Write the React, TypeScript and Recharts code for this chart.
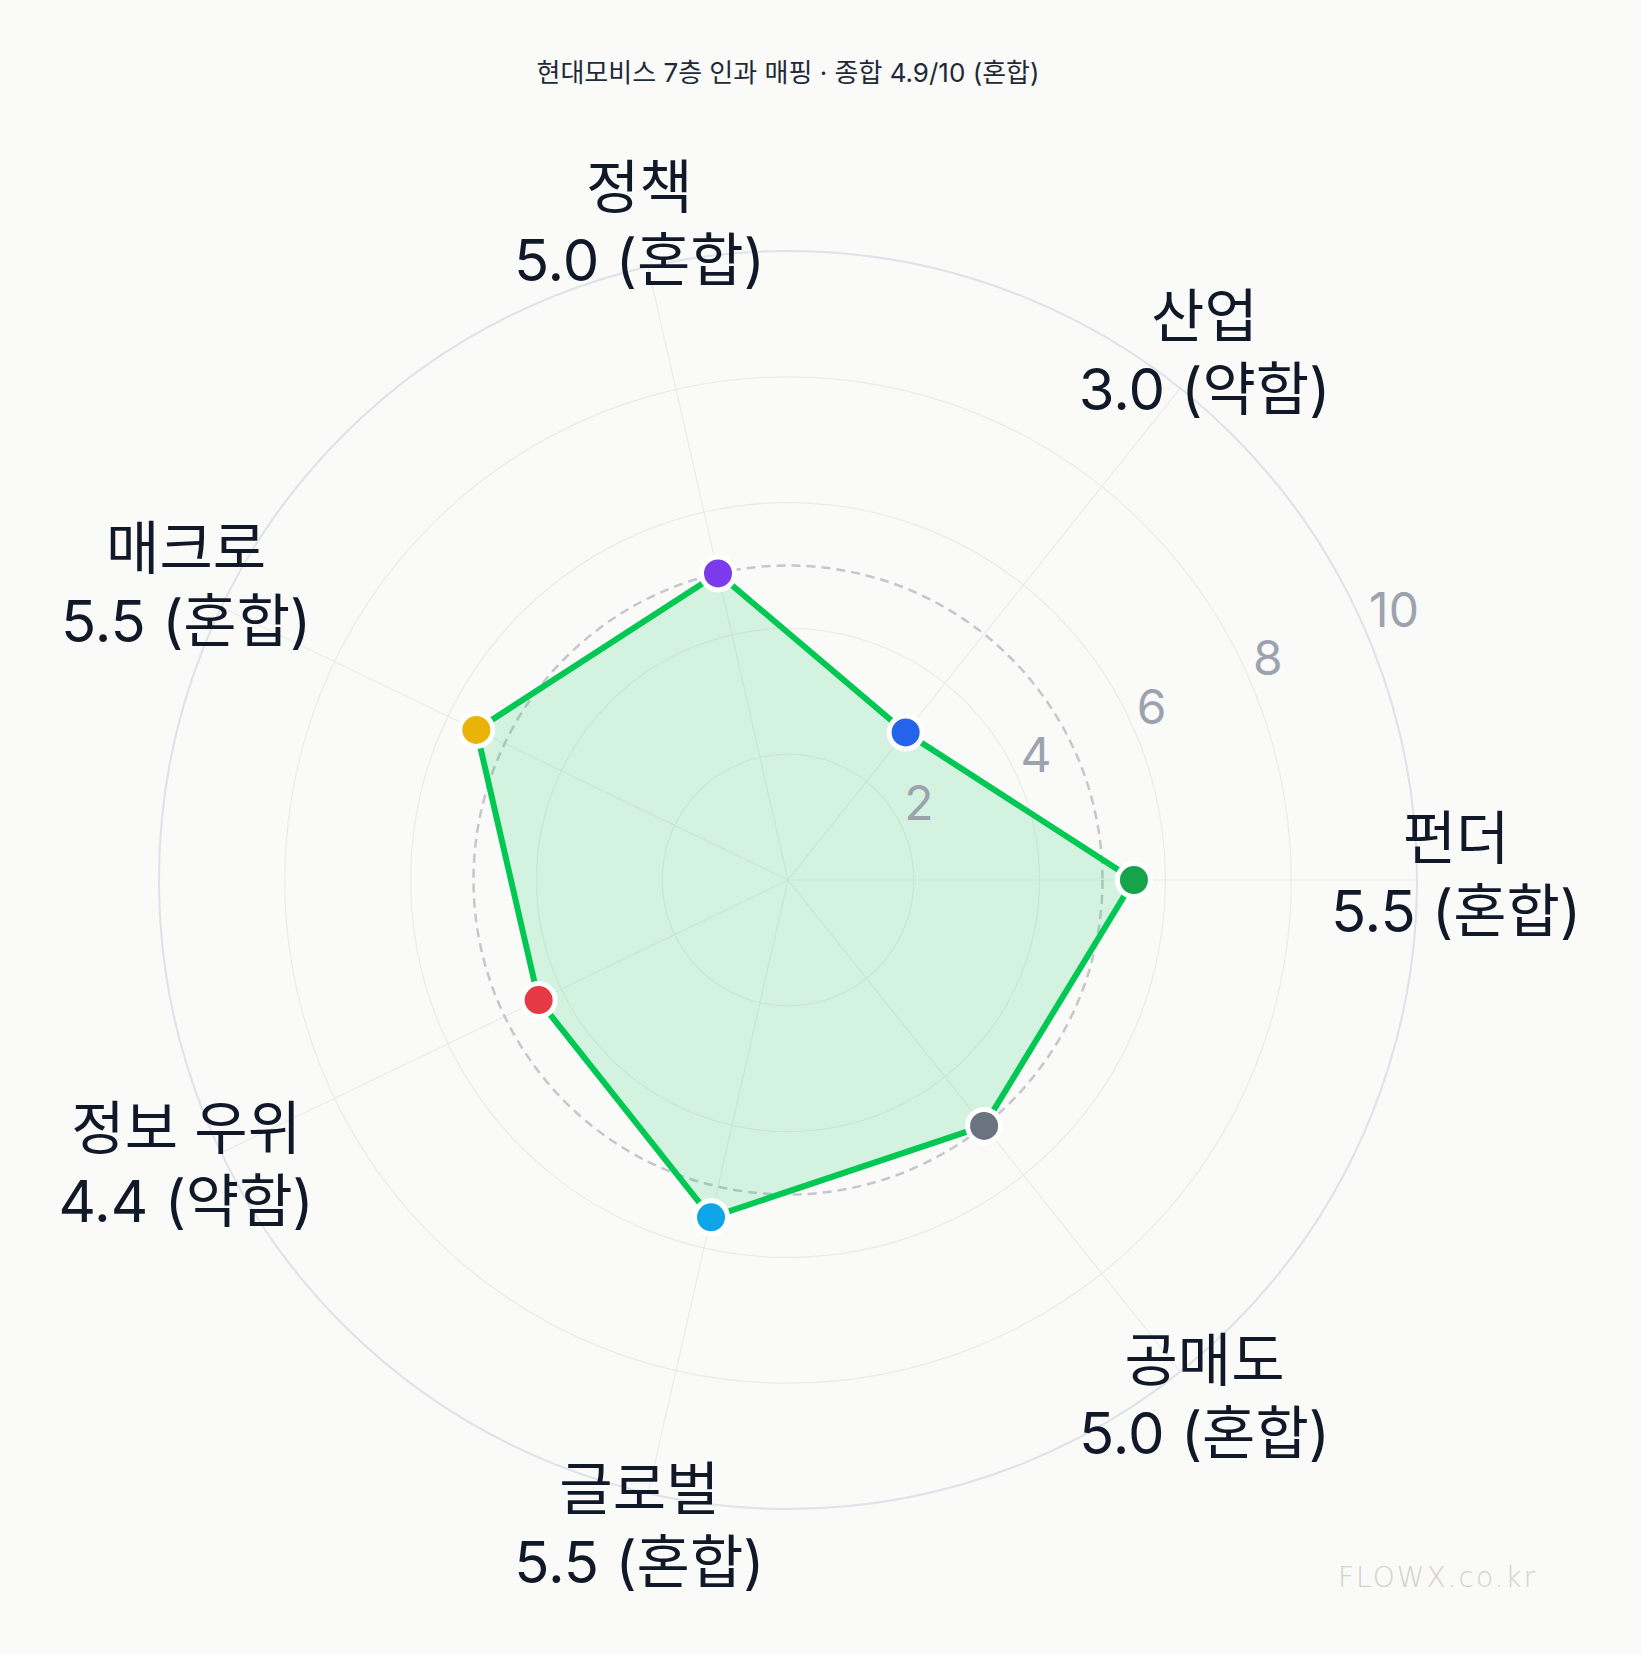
import React from 'react'
import {
  RadarChart,
  Radar,
  PolarGrid,
  PolarAngleAxis,
  PolarRadiusAxis,
} from 'recharts'

const FONT = "Inter, 'Noto Sans CJK KR', sans-serif"

// 7 layers, listed clockwise from 3 o'clock (chart is drawn 0 -> -360)
const categories = ['펀더', '공매도', '글로벌', '정보 우위', '매크로', '정책', '산업']
const scores = [5.5, 5.0, 5.5, 4.4, 5.5, 5.0, 3.0]
const grades = ['혼합', '혼합', '혼합', '약함', '혼합', '혼합', '약함']
const dotColors = ['#16a34a', '#6b7280', '#0ea5e9', '#e63946', '#eab308', '#7c3aed', '#2563eb']
const radiusTicks = [0, 2, 4, 6, 8, 10]
const neutralLine = 5

const title = '현대모비스 7층 인과 매핑 · 종합 4.9/10 (혼합)'

const data = categories.map((name, i) => ({ name, score: scores[i] }))

const CX = 788
const CY = 880
const OUTER = 629

function AngleTick(props: any) {
  const { x, y, payload } = props
  const i = categories.indexOf(payload.value)
  return (
    <text x={x} y={y} textAnchor="middle" fill="#111827" fontSize={58} fontFamily={FONT}>
      <tspan x={x} y={y - 21}>{categories[i]}</tspan>
      <tspan x={x} y={y + 52}>
        {scores[i].toFixed(1)} ({grades[i]})
      </tspan>
    </text>
  )
}

function RadiusTick(props: any) {
  const { x, y, payload } = props
  if (payload.value === 0) return <g />
  return (
    <text x={x} y={y - 12} textAnchor="start" fill="#9ca3af" fontSize={48} fontFamily={FONT}>
      {payload.value}
    </text>
  )
}

function ScoreDot(props: any) {
  const { cx, cy, index } = props
  return <circle cx={cx} cy={cy} r={16.5} fill={dotColors[index]} stroke="#ffffff" strokeWidth={5} />
}

export default function App() {
  return (
    <div
      style={{
        position: 'absolute',
        left: 0,
        top: 0,
        width: 1641,
        height: 1654,
        background: '#fafaf9',
        fontFamily: FONT,
      }}
    >
      <div
        style={{
          position: 'absolute',
          left: 0,
          top: 57,
          width: CX * 2,
          textAlign: 'center',
          fontSize: 26,
          lineHeight: '32px',
          color: '#1f2937',
        }}
      >
        {title}
      </div>
      <RadarChart
        width={1641}
        height={1654}
        data={data}
        cx={CX}
        cy={CY}
        outerRadius={OUTER}
        startAngle={0}
        endAngle={-360}
        margin={{ top: 0, right: 0, bottom: 0, left: 0 }}
      >
        <PolarGrid gridType="circle" stroke="#ebebeb" strokeWidth={1.2} />
        <PolarGrid
          gridType="circle"
          radialLines={false}
          polarRadius={[OUTER]}
          stroke="#dfe2e9"
          strokeWidth={2}
        />
        <PolarGrid
          gridType="circle"
          radialLines={false}
          polarRadius={[(OUTER * neutralLine) / 10]}
          stroke="#c4c7ce"
          strokeWidth={2.5}
          strokeDasharray="9 6"
        />
        <PolarAngleAxis
          dataKey="name"
          tick={AngleTick}
          tickLine={false}
          axisLine={false}
          tickSize={39}
        />
        <PolarRadiusAxis
          angle={22.5}
          domain={[0, 10]}
          ticks={radiusTicks}
          tickCount={6}
          tick={RadiusTick}
          axisLine={false}
          tickLine={false}
        />
        <Radar
          dataKey="score"
          stroke="#00c853"
          strokeWidth={6}
          fill="#00c853"
          fillOpacity={0.15}
          dot={ScoreDot}
          activeDot={false}
          isAnimationActive={false}
        />
      </RadarChart>
      <div
        style={{
          position: 'absolute',
          left: 1338,
          top: 1560,
          fontSize: 28,
          lineHeight: '36px',
          letterSpacing: 2,
          color: '#d3d1cc',
          fontFamily: "'DejaVu Sans', sans-serif",
          fontWeight: 300,
        }}
      >
        FLOWX.co.kr
      </div>
    </div>
  )
}
